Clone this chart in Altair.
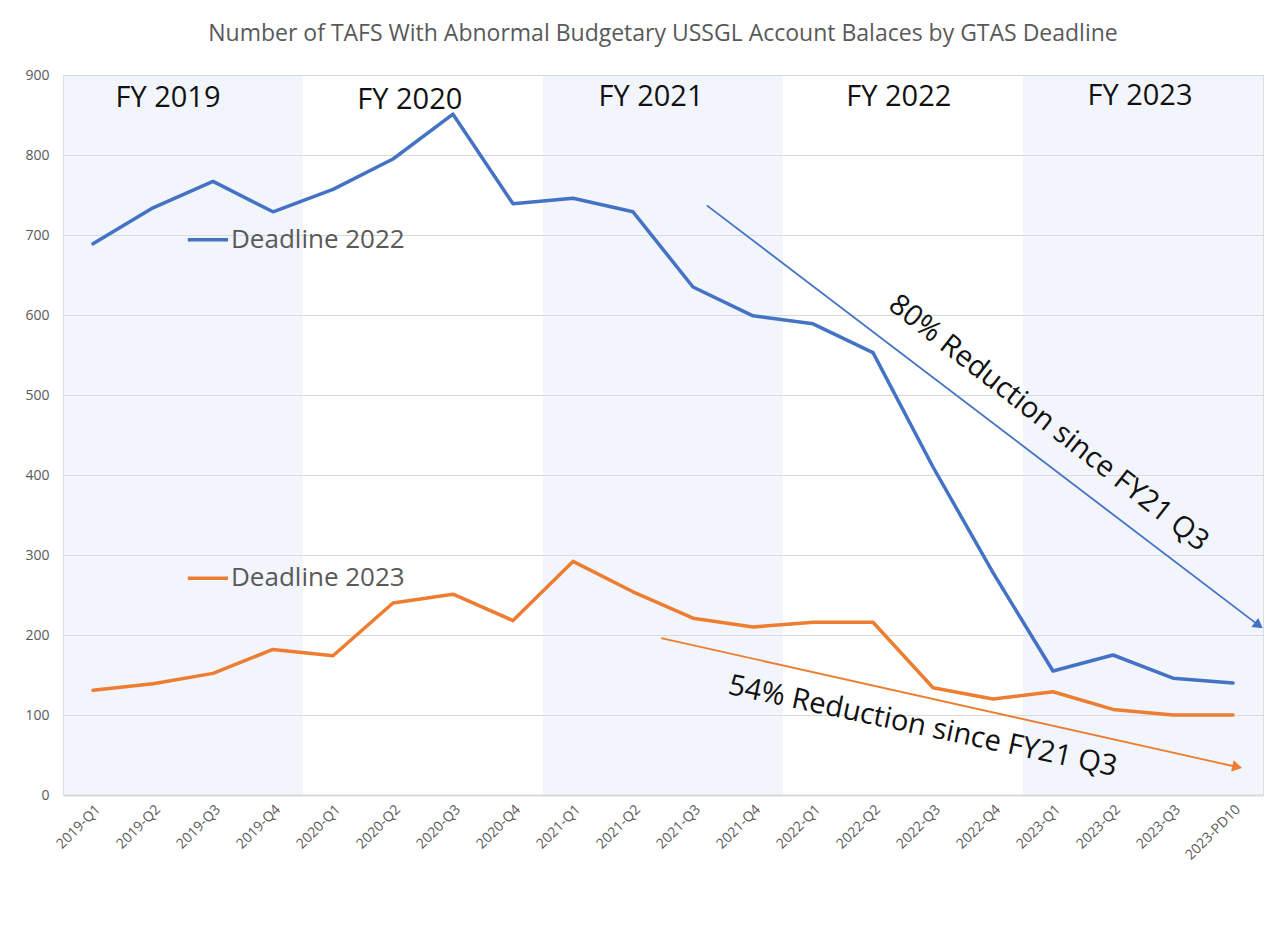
import altair as alt
import pandas as pd

# ---------------- data ----------------
categories = ["2019-Q1", "2019-Q2", "2019-Q3", "2019-Q4",
              "2020-Q1", "2020-Q2", "2020-Q3", "2020-Q4",
              "2021-Q1", "2021-Q2", "2021-Q3", "2021-Q4",
              "2022-Q1", "2022-Q2", "2022-Q3", "2022-Q4",
              "2023-Q1", "2023-Q2", "2023-Q3", "2023-PD10"]
deadline_2022 = [689, 734, 767, 729, 757, 795, 851, 739, 746, 729,
                 635, 599, 589, 553, 410, 278, 155, 175, 146, 140]
deadline_2023 = [131, 139, 152, 182, 174, 240, 251, 218, 292, 254,
                 221, 210, 216, 216, 134, 120, 129, 107, 100, 100]
series_names = ["Deadline 2022", "Deadline 2023"]
series_colors = ["#4472C4", "#ED7D31"]
fiscal_years = ["FY 2019", "FY 2020", "FY 2021", "FY 2022", "FY 2023"]
fy_shaded = [True, False, True, False, True]
y_ticks = [0, 100, 200, 300, 400, 500, 600, 700, 800, 900]

title_text = "Number of TAFS With Abnormal Budgetary USSGL Account Balaces by GTAS Deadline"
note_2022 = "80% Reduction since FY21 Q3"
note_2023 = "54% Reduction since FY21 Q3"

FONT = "Open Sans"
GRAY = "#595959"

# ---------------- tables ----------------
rows = []
for i, c in enumerate(categories):
    rows.append({"pos": i + 0.5, "cat": c, "series": series_names[0], "value": deadline_2022[i]})
    rows.append({"pos": i + 0.5, "cat": c, "series": series_names[1], "value": deadline_2023[i]})
df = pd.DataFrame(rows)

bands = pd.DataFrame([
    {"start": 4 * k, "end": 4 * k + 4, "top": 900, "bottom": 0}
    for k, s in enumerate(fy_shaded) if s
])

# annotation anchors in data units (category index, value)
fy_pos = pd.DataFrame({
    "label": fiscal_years,
    "x": [1.75, 5.78, 9.8, 13.93, 17.95],
    "y": [871, 869, 873, 872, 874],
})
legend_lines = pd.DataFrame({
    "series": series_names,
    "x1": [2.08, 2.08], "x2": [2.75, 2.75],
    "y": [694, 271], "tx": [2.8, 2.8],
})
arrows = pd.DataFrame({
    "series": series_names,
    "x1": [10.73, 9.97], "y1": [737, 196],
    "x2": [19.93, 19.57], "y2": [212, 35],
    "angle": [127, 103],
})
notes = pd.DataFrame({
    "text": [note_2022, note_2023],
    "x": [16.43, 14.33], "y": [465, 86],
    "angle": [38, 12],
})

# ---------------- scales ----------------
label_array = "[" + ",".join("'" + c + "'" for c in categories) + "]"
xscale = alt.Scale(domain=[0, len(categories)], nice=False, zero=False)
yscale = alt.Scale(domain=[0, 900], nice=False)
cscale = alt.Scale(domain=series_names, range=series_colors)

x_axis = alt.Axis(
    values=[i + 0.5 for i in range(len(categories))],
    labelExpr=label_array + "[round(datum.value - 0.5)]",
    labelAngle=-45, labelFontSize=14, labelColor=GRAY, labelFont=FONT,
    labelPadding=7, labelOverlap=False, labelBound=False, labelFlush=False,
    ticks=False, grid=False, domain=True,
    domainColor="#D9D9D9", domainWidth=2, title=None,
)
y_axis = alt.Axis(
    values=y_ticks, labelFontSize=14, labelColor=GRAY, labelFont=FONT,
    labelPadding=14, ticks=False, domain=False, grid=True,
    gridColor="#D9D9D9", gridWidth=1, title=None,
)

base_x = alt.X("pos:Q", scale=xscale, axis=x_axis)
base_y = alt.Y("value:Q", scale=yscale, axis=y_axis)

band_layer = alt.Chart(bands).mark_rect(color="#DAE3F3", opacity=0.35).encode(
    x=alt.X("start:Q", scale=xscale, axis=x_axis),
    x2="end:Q",
    y=alt.Y("top:Q", scale=yscale, axis=y_axis),
    y2="bottom:Q",
)

lines = alt.Chart(df).mark_line(strokeWidth=3.5, strokeJoin="round", strokeCap="round").encode(
    x=base_x, y=base_y,
    color=alt.Color("series:N", scale=cscale, legend=None),
    detail="series:N",
)

legend_rules = alt.Chart(legend_lines).mark_rule(strokeWidth=3.5).encode(
    x=alt.X("x1:Q", scale=xscale), x2="x2:Q",
    y=alt.Y("y:Q", scale=yscale),
    color=alt.Color("series:N", scale=cscale, legend=None),
)
legend_texts = alt.Chart(legend_lines).mark_text(
    align="left", baseline="middle", fontSize=26, font=FONT, color=GRAY
).encode(
    x=alt.X("tx:Q", scale=xscale), y=alt.Y("y:Q", scale=yscale), text="series:N",
)

arrow_lines = alt.Chart(arrows).mark_rule(strokeWidth=1.8).encode(
    x=alt.X("x1:Q", scale=xscale), x2="x2:Q",
    y=alt.Y("y1:Q", scale=yscale), y2="y2:Q",
    color=alt.Color("series:N", scale=cscale, legend=None),
)
arrow_heads = alt.Chart(arrows).mark_point(
    shape="triangle-up", filled=True, size=130, opacity=1
).encode(
    x=alt.X("x2:Q", scale=xscale), y=alt.Y("y2:Q", scale=yscale),
    angle=alt.Angle("angle:Q", scale=None),
    color=alt.Color("series:N", scale=cscale, legend=None),
)

note_texts = alt.Chart(notes).mark_text(
    align="center", baseline="middle", fontSize=29, font=FONT, color="#111111"
).encode(
    x=alt.X("x:Q", scale=xscale), y=alt.Y("y:Q", scale=yscale),
    text="text:N", angle=alt.Angle("angle:Q", scale=None),
)

fy_texts = alt.Chart(fy_pos).mark_text(
    align="center", baseline="middle", fontSize=29, font=FONT, color="#111111"
).encode(
    x=alt.X("x:Q", scale=xscale), y=alt.Y("y:Q", scale=yscale), text="label:N",
)

chart = alt.layer(
    band_layer, lines, legend_rules, legend_texts,
    arrow_lines, arrow_heads, note_texts, fy_texts,
).properties(
    width=1200, height=720,
    title=alt.TitleParams(title_text, font=FONT, fontSize=23, fontWeight="normal",
                          color=GRAY, anchor="middle", offset=22),
    autosize=alt.AutoSizeParams(type="none"),
    padding={"left": 55, "top": 67, "right": 12, "bottom": 130},
).configure_view(stroke=None).configure(background="white")

chart.save("out.html", embed_options={"renderer": "svg", "actions": False})
